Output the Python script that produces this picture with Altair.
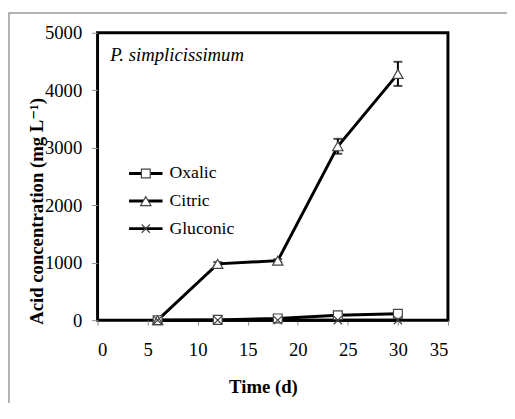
import altair as alt
import pandas as pd

# ---- data ----
days = [6, 12, 18, 24, 30]
oxalic = [0, 5, 30, 85, 110]
citric = [0, 980, 1035, 3025, 4285]
gluconic = [0, 0, 0, 0, 0]
citric_err = [0, 30, 25, 130, 210]

series_names = ["Oxalic", "Citric", "Gluconic"]
x_ticks = [0, 5, 10, 15, 20, 25, 30, 35]
y_ticks = [0, 1000, 2000, 3000, 4000, 5000]

FONT = "Times New Roman, Liberation Serif, DejaVu Serif, serif"
XPATH = "M-1,-1L1,1M-1,1L1,-1"
YTITLE = "Acid concentration (mg L\u207b\u00b9)"

rows = []
for name, vals in zip(series_names, [oxalic, citric, gluconic]):
    for d, v in zip(days, vals):
        rows.append({"day": d, "value": v, "series": name})
df = pd.DataFrame(rows)

err_df = pd.DataFrame({
    "day": days,
    "lo": [c - e for c, e in zip(citric, citric_err)],
    "hi": [c + e for c, e in zip(citric, citric_err)],
})

W, H = 356, 292
xs = alt.Scale(domain=[0, 35], nice=False, zero=False)
ys = alt.Scale(domain=[0, 5000], nice=False)

x_axis = alt.Axis(values=x_ticks, format="d", title="Time (d)", titleX=168, titleY=67,
                  titleBaseline="middle", titleAlign="center")
y_axis = alt.Axis(values=y_ticks, format="d", title=YTITLE,
                  titleX=-62, titleY=181, titleAngle=270, titleAlign="center",
                  titleBaseline="middle")

frame = alt.Chart(pd.DataFrame({"k": [0]})).mark_rect(
    fill=None, stroke="#9a9a9a", strokeWidth=1.5
).encode(x=alt.value(-90), y=alt.value(-20), x2=alt.value(700), y2=alt.value(700))

lines = alt.Chart(df).mark_line(color="black", strokeWidth=3).encode(
    x=alt.X("day:Q", scale=xs, axis=x_axis),
    y=alt.Y("value:Q", scale=ys, axis=y_axis),
    detail="series:N", order=alt.Order("day:Q"))

errbars = alt.Chart(err_df).mark_errorbar(
    ticks=alt.MarkConfig(size=9, strokeWidth=2), color="black", thickness=2
).encode(
    x=alt.X("day:Q", scale=xs, axis=x_axis),
    y=alt.Y("lo:Q", scale=ys, axis=y_axis, title=YTITLE),
    y2="hi:Q")

def pts(name, shape, size, fill):
    return alt.Chart(df[df.series == name]).mark_point(
        shape=shape, size=size, filled=fill is not None,
        fill="white", fillOpacity=1 if fill is not None else 0,
        stroke="#444444", strokeWidth=1.2, opacity=1
    ).encode(x=alt.X("day:Q", scale=xs, axis=x_axis),
             y=alt.Y("value:Q", scale=ys, axis=y_axis))

ox_pts = pts("Oxalic", "square", 81, "white")
ci_pts = pts("Citric", "triangle-up", 110, "white")
gl_pts = pts("Gluconic", XPATH, 70, None)

species = alt.Chart(pd.DataFrame({"t": ["P. simplicissimum"]})).mark_text(
    font=FONT, fontSize=19, fontStyle="italic", align="left", baseline="middle", color="black"
).encode(text="t:N", x=alt.value(13), y=alt.value(23))

legend_layers = []
shapes = [("square", 81, "white"), ("triangle-up", 110, "white"), (XPATH, 70, None)]
for i, (name, (shp, sz, fl)) in enumerate(zip(series_names, shapes)):
    yy = 143 + i * 28
    one = pd.DataFrame({"series": [name]})
    legend_layers.append(alt.Chart(one).mark_rule(color="black", strokeWidth=3).encode(
        x=alt.value(32), x2=alt.value(66), y=alt.value(yy)))
    legend_layers.append(alt.Chart(one).mark_point(
        shape=shp, size=sz, filled=fl is not None, fill="white",
        fillOpacity=1 if fl is not None else 0,
        stroke="#444444", strokeWidth=1.2, opacity=1
    ).encode(x=alt.value(49), y=alt.value(yy)))
    legend_layers.append(alt.Chart(one).mark_text(
        font=FONT, fontSize=18, align="left", baseline="middle", color="black"
    ).encode(text="series:N", x=alt.value(73), y=alt.value(yy)))

chart = alt.layer(
    frame, lines, errbars, ox_pts, ci_pts, gl_pts, species, *legend_layers
).properties(
    width=W, height=H,
    autosize=alt.AutoSizeParams(type="none"),
    padding={"left": 91, "top": 22, "right": 60, "bottom": 81},
).configure_view(
    stroke="black", strokeWidth=3
).configure_axis(
    grid=False, domain=False, tickColor="#888888", tickWidth=1,
    labelFont=FONT, labelFontSize=19, labelColor="black",
    titleFont=FONT, titleFontSize=19, titleFontWeight="bold", titleColor="black",
).configure_axisY(
    tickSize=6, labelPadding=10
).configure_axisX(
    tickSize=5, labelPadding=16, labelBaseline="top"
)

chart.save("out.html", embed_options={"renderer": "svg", "actions": False})
